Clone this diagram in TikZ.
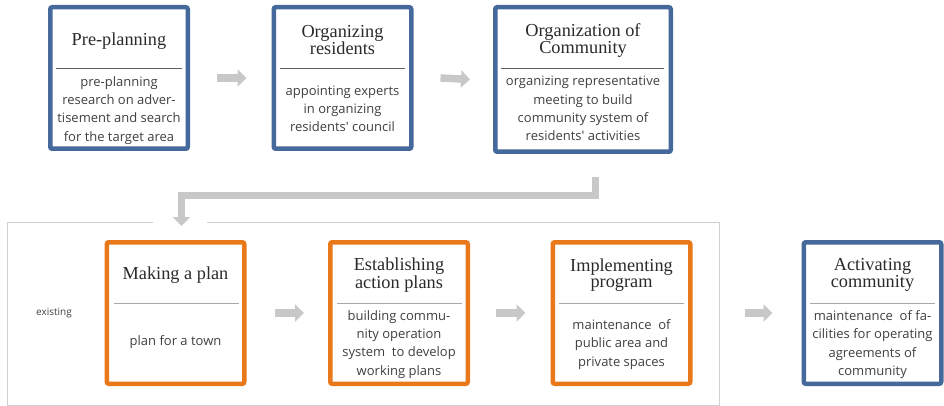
\documentclass[tikz,border=0pt]{standalone}
\usepackage{fontspec}
\setmainfont{Liberation Serif}
\newfontfamily\bodyfont{Open Sans}
\usetikzlibrary{arrows.meta}
\definecolor{boxblue}{HTML}{44699A}
\definecolor{boxorange}{HTML}{E8781A}
\definecolor{arrgray}{HTML}{C8C8C8}
\definecolor{framegray}{HTML}{D0D0D0}
\definecolor{sepdark}{HTML}{606060}
\definecolor{seplight}{HTML}{A8A8A8}
\definecolor{titlecol}{HTML}{2A2A2A}
\definecolor{bodycol}{HTML}{404040}
\begin{document}
\begin{tikzpicture}[x=1pt,y=-1pt,
  stepbox/.style={draw, line width=4.5pt, rounded corners=2pt, minimum width=137.5pt, minimum height=141.5pt, inner sep=0pt, fill=white},
  bluebox/.style={stepbox, draw=boxblue},
  orangebox/.style={stepbox, draw=boxorange},
  titletext/.style={font=\fontsize{18.3}{16.5}\selectfont, align=center, inner sep=0pt, text=titlecol},
  bodytext/.style={font=\bodyfont\fontsize{13}{18.2}\selectfont, align=center, inner sep=0pt, text=bodycol},
  sepline/.style={line width=0.9pt},
  blockarrow/.style={draw=arrgray, line width=7.5pt, -{Triangle[length=9pt,width=17pt]}},
]
\useasboundingbox (0,0) rectangle (944,406);

% container frame
\draw[framegray, line width=0.9pt] (153,222) -- (7,222) -- (7,405) -- (719,405) -- (719,222) -- (207,222);

% top row
\node[bluebox] (b1) at (119,78) {};
\node[bluebox] (b2) at (342.5,78) {};
\node[bluebox, minimum width=175.5pt, minimum height=144.5pt] (b3) at (583,79.5) {};

\node[titletext] (t1) at (119,41) {Pre-planning};
\node[titletext] (t2) at (342.5,40) {Organizing\\residents};
\node[titletext] (t3) at (583,40.5) {Organization of\\Community};

\draw[sepline, sepdark] (56,68) -- (182,68);
\draw[sepline, sepdark] (280,68) -- (405,68);
\draw[sepline, sepdark] (501,68) -- (664,68);

\node[bodytext] (d1) at (119,110.5) {pre-planning\\research on adver-\\tisement and search\\for the target area};
\node[bodytext] (d2) at (342.5,109) {appointing experts\\in organizing\\residents' council};
\node[bodytext] (d3) at (583,108.5) {organizing representative\\meeting to build\\community system of\\residents' activities};

% bottom row
\node[orangebox] (b4) at (175.5,313) {};
\node[orangebox] (b5) at (399,313) {};
\node[orangebox] (b6) at (621.5,313) {};
\node[bluebox] (b7) at (872.5,313) {};

\node[titletext] (t4) at (175.5,275) {Making a plan};
\node[titletext] (t5) at (399,275) {Establishing\\action plans};
\node[titletext] (t6) at (621.5,275) {Implementing\\program};
\node[titletext] (t7) at (872.5,275) {Activating\\community};

\draw[sepline, seplight] (114,303) -- (239,303);
\draw[sepline, seplight] (337,303) -- (462,303);
\draw[sepline, seplight] (559,303) -- (684,303);
\draw[sepline, seplight] (810,303) -- (935,303);

\node[bodytext] (d4) at (175.5,342) {plan for a town};
\node[bodytext] (d5) at (399,344.5) {building commu-\\nity operation\\system\ \ to develop\\working plans};
\node[bodytext] (d6) at (621.5,344.5) {maintenance\ \ of\\public area and\\private spaces};
\node[bodytext] (d7) at (872.5,344.5) {maintenance\ \ of fa-\\cilities for operating\\agreements of\\community};

\node[font=\bodyfont\fontsize{10}{12}\selectfont, text=bodycol, inner sep=0pt] (ex) at (54,313) {existing};

% arrows
\draw[blockarrow] ([xshift=27pt]b1.east) -- ([xshift=-25pt]b2.west);
\draw[blockarrow] ([xshift=27pt]b2.east) -- ([xshift=-23pt]b3.west);
\draw[blockarrow] ([xshift=28pt]b4.east) -- ([xshift=-24pt]b5.west);
\draw[blockarrow] ([xshift=26pt]b5.east) -- ([xshift=-25pt]b6.west);
\draw[blockarrow] ([xshift=52pt]b6.east) -- ([xshift=-29pt]b7.west);
\coordinate (es) at ([xshift=12.5pt, yshift=-23pt]b3.south);
\coordinate (ee) at ([xshift=6pt, yshift=14pt]b4.north);
\draw[blockarrow, line join=miter] (es) -- ++(0,18.5) -| (ee);
\end{tikzpicture}
\end{document}
